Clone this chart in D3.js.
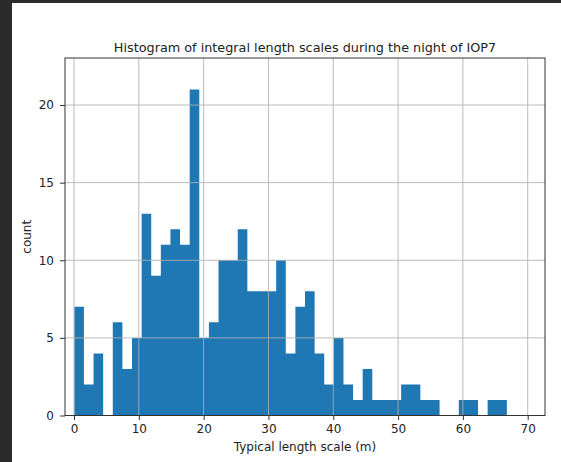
<!DOCTYPE html>
<html>
<head>
<meta charset="utf-8">
<script src="https://cdn.jsdelivr.net/npm/d3@7"></script>
<style>
  body { margin: 0; background: #2b2b2b; }
  svg { display: block; }
  text { font-family: "DejaVu Sans", sans-serif; fill: #222; }
</style>
</head>
<body>
<svg id="chart" width="561" height="462"></svg>
<script>
// histogram counts, one per bin (45 equal bins)
const counts = [7, 2, 4, 0, 6, 3, 5, 13, 9, 11, 12, 11, 21, 5, 6, 10, 10, 12, 8, 8,
                8, 10, 4, 7, 8, 4, 2, 5, 2, 1, 3, 1, 1, 1, 2, 2, 1, 1, 0, 0,
                1, 1, 0, 1, 1];
const binStart = 0.05;
const binWidth = 1.483;
const xTicks = [0, 10, 20, 30, 40, 50, 60, 70];
const yTicks = [0, 5, 10, 15, 20];

const title = 'Histogram of integral length scales during the night of IOP7';
const xLabel = 'Typical length scale (m)';
const yLabel = 'count';

const bins = counts.map((c, i) => ({
    x0: binStart + i * binWidth,
    x1: binStart + (i + 1) * binWidth,
    count: c
}));

const svg = d3.select('#chart');

// white figure area (screenshot has a dark frame on the top and left)
svg.append('rect')
    .attr('x', 12).attr('y', 3)
    .attr('width', 561 - 12).attr('height', 462 - 3)
    .attr('fill', '#ffffff');

const plot = { left: 65, right: 545, top: 58, bottom: 415.5 };

const xScale = d3.scaleLinear()
    .domain([-1.39, 72.67])
    .range([plot.left, plot.right]);

const yScale = d3.scaleLinear()
    .domain([0, 23.03])
    .range([plot.bottom, plot.top]);

// bars, drawn as one stepped shape so neighbouring bars have no seams
const steps = bins.map(d => ({ x: d.x0, count: d.count }));
steps.push({ x: bins[bins.length - 1].x1, count: bins[bins.length - 1].count });

const histArea = d3.area()
    .x(d => xScale(d.x))
    .y0(yScale(0))
    .y1(d => yScale(d.count))
    .curve(d3.curveStepAfter);

svg.append('path')
    .datum(steps)
    .attr('d', histArea)
    .attr('fill', '#1f77b4');

// grid on top of the bars
const grid = svg.append('g')
    .attr('stroke', '#b0b0b0')
    .attr('stroke-width', 1)
    .attr('opacity', 0.85);

grid.selectAll('.gx')
    .data(xTicks)
    .enter()
    .append('line')
    .attr('x1', d => xScale(d)).attr('x2', d => xScale(d))
    .attr('y1', plot.top).attr('y2', plot.bottom);

grid.selectAll('.gy')
    .data(yTicks)
    .enter()
    .append('line')
    .attr('x1', plot.left).attr('x2', plot.right)
    .attr('y1', d => yScale(d)).attr('y2', d => yScale(d));

// axes
const xAxis = d3.axisBottom(xScale)
    .tickValues(xTicks)
    .tickSize(4.5)
    .tickPadding(4)
    .tickSizeOuter(0);

const yAxis = d3.axisLeft(yScale)
    .tickValues(yTicks)
    .tickSize(5)
    .tickPadding(6)
    .tickSizeOuter(0);

const gx = svg.append('g')
    .attr('transform', `translate(0,${plot.bottom})`)
    .call(xAxis);

const gy = svg.append('g')
    .attr('transform', `translate(${plot.left},0)`)
    .call(yAxis);

[gx, gy].forEach(g => {
    g.select('.domain').remove();
    g.selectAll('.tick line').attr('stroke', '#333');
    g.selectAll('.tick text')
        .attr('fill', '#222')
        .style('font-family', '"DejaVu Sans", sans-serif')
        .style('font-size', '12px');
});

// frame
svg.append('rect')
    .attr('x', plot.left).attr('y', plot.top)
    .attr('width', plot.right - plot.left)
    .attr('height', plot.bottom - plot.top)
    .attr('fill', 'none')
    .attr('stroke', '#333')
    .attr('stroke-width', 1);

// labels
svg.append('text')
    .attr('x', (plot.left + plot.right) / 2)
    .attr('y', 51.7)
    .attr('text-anchor', 'middle')
    .style('font-size', '12.8px')
    .text(title);

svg.append('text')
    .attr('x', (plot.left + plot.right) / 2)
    .attr('y', 451)
    .attr('text-anchor', 'middle')
    .style('font-size', '12px')
    .text(xLabel);

svg.append('text')
    .attr('transform', `translate(31,${(plot.top + plot.bottom) / 2}) rotate(-90)`)
    .attr('text-anchor', 'middle')
    .style('font-size', '12px')
    .text(yLabel);
</script>
</body>
</html>
